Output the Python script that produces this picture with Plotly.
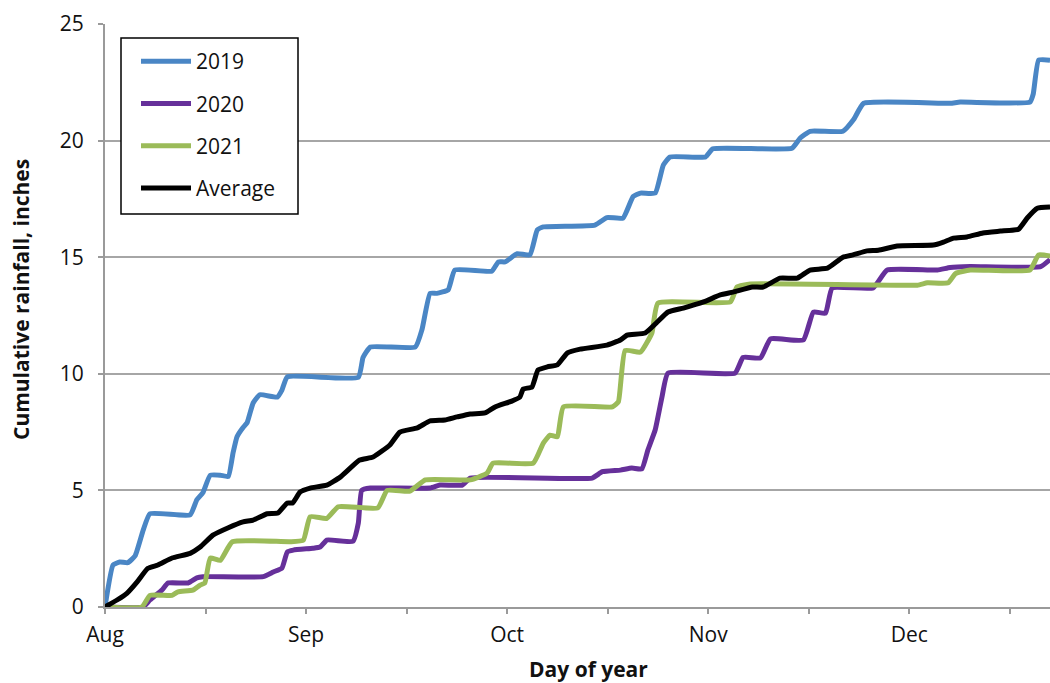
import plotly.graph_objects as go

# ---- data (days since Aug 1, cumulative inches) ----
days_2019 = [0, 1.2, 2.2, 3.4, 4.5, 5.7, 6.7, 12.7, 13.7, 14.6, 15.7, 17.2, 18.4, 19.1, 19.7, 20.6, 21.2, 22.1, 23.1, 25.7, 26.4, 27.2, 37.8, 38.5, 39.6, 46.3, 47.3, 48.5, 49.5, 51.2, 52.2, 57.7, 58.7, 59.7, 61.5, 63.4, 64.5, 65.4, 73.1, 74.9, 77.3, 78.8, 79.9, 82.1, 83.3, 84.3, 89.6, 90.7, 102.5, 103.7, 105.2, 110.1, 111.7, 113.2, 126.1, 127.6, 138.0, 138.5, 139.3, 141]
rain_2019 = [0, 1.8, 1.93, 1.9, 2.2, 3.3, 4.0, 3.95, 4.6, 4.9, 5.65, 5.65, 5.6, 6.6, 7.3, 7.7, 7.9, 8.75, 9.1, 9.0, 9.3, 9.87, 9.85, 10.7, 11.15, 11.15, 11.9, 13.45, 13.45, 13.6, 14.45, 14.4, 14.8, 14.8, 15.15, 15.1, 16.17, 16.3, 16.38, 16.7, 16.68, 17.6, 17.75, 17.75, 18.95, 19.3, 19.3, 19.65, 19.67, 20.1, 20.4, 20.4, 20.9, 21.6, 21.6, 21.65, 21.65, 22.0, 23.45, 23.45]

days_2020 = [0, 5.7, 6.7, 8.5, 9.4, 12.4, 13.7, 14.6, 23.6, 25.1, 26.4, 27.2, 28.1, 31.0, 32.1, 33.1, 37.0, 37.8, 38.3, 39.6, 48.5, 50.0, 53.3, 54.5, 72.7, 74.2, 76.9, 78.6, 80.1, 81.0, 82.1, 83.1, 84.0, 94.0, 95.2, 97.8, 99.3, 104.2, 105.7, 107.5, 108.5, 114.6, 116.7, 124.2, 126.1, 129.1, 139.6, 141]
rain_2020 = [0, 0, 0.3, 0.73, 1.03, 1.03, 1.25, 1.3, 1.3, 1.5, 1.67, 2.36, 2.44, 2.52, 2.57, 2.87, 2.82, 3.6, 5.0, 5.1, 5.1, 5.23, 5.23, 5.53, 5.53, 5.8, 5.87, 5.96, 5.92, 6.73, 7.6, 9.0, 10.03, 10.03, 10.7, 10.68, 11.5, 11.45, 12.65, 12.6, 13.68, 13.68, 14.45, 14.45, 14.56, 14.6, 14.6, 14.9]

days_2021 = [0, 5.5, 6.7, 10.0, 10.9, 13.1, 14.2, 14.9, 15.7, 17.2, 19.0, 27.6, 29.6, 30.6, 33.1, 34.8, 40.7, 42.1, 45.5, 47.8, 54.5, 57.0, 57.9, 63.9, 65.4, 66.4, 67.5, 68.4, 75.7, 76.6, 77.6, 79.9, 81.6, 82.5, 93.3, 94.3, 96.3, 121.2, 122.7, 125.8, 126.9, 129.1, 138.0, 139.3, 141]
rain_2021 = [0, 0, 0.5, 0.5, 0.65, 0.72, 0.94, 1.03, 2.1, 2.0, 2.8, 2.8, 2.87, 3.87, 3.8, 4.3, 4.25, 5.0, 4.97, 5.45, 5.45, 5.74, 6.17, 6.17, 7.03, 7.37, 7.3, 8.58, 8.58, 8.8, 11.0, 10.93, 11.75, 13.03, 13.08, 13.72, 13.85, 13.8, 13.9, 13.9, 14.3, 14.45, 14.45, 15.1, 15.05]

days_avg = [0, 1.8, 3.3, 4.8, 6.4, 7.9, 10.0, 12.7, 14.2, 16.1, 18.4, 20.6, 22.1, 24.2, 25.8, 27.2, 28.0, 29.1, 30.6, 33.1, 35.1, 38.0, 40.0, 42.5, 44.0, 46.6, 48.5, 50.7, 52.5, 54.5, 56.7, 58.2, 60.7, 61.9, 62.4, 63.7, 64.6, 66.0, 67.5, 69.0, 70.9, 74.9, 76.9, 77.9, 80.6, 82.4, 84.0, 86.3, 89.3, 91.8, 93.7, 96.6, 98.2, 100.7, 103.3, 105.2, 107.8, 110.1, 111.6, 113.7, 115.4, 118.2, 123.6, 125.1, 126.6, 128.6, 131.0, 133.6, 136.3, 137.6, 139.1, 141]
rain_avg = [0, 0.3, 0.6, 1.08, 1.66, 1.8, 2.1, 2.3, 2.57, 3.08, 3.4, 3.65, 3.73, 4.0, 4.03, 4.46, 4.46, 4.93, 5.1, 5.23, 5.57, 6.3, 6.43, 6.95, 7.5, 7.68, 7.98, 8.02, 8.15, 8.28, 8.32, 8.58, 8.83, 9.0, 9.35, 9.43, 10.16, 10.3, 10.38, 10.9, 11.06, 11.23, 11.45, 11.66, 11.75, 12.22, 12.65, 12.82, 13.08, 13.38, 13.5, 13.72, 13.72, 14.1, 14.1, 14.45, 14.53, 15.0, 15.1, 15.27, 15.3, 15.48, 15.52, 15.65, 15.82, 15.87, 16.04, 16.12, 16.2, 16.68, 17.1, 17.15]

series_names = ["2019", "2020", "2021", "Average"]
series_colors = ["#4A86C5", "#66309A", "#9BBB59", "#000000"]

month_ticks = [0, 15, 30, 45, 60, 75, 90, 105, 120, 135]
month_labels = ["Aug", "", "Sep", "", "Oct", "", "Nov", "", "Dec", ""]

FONT = "Open Sans"
FS = 21
TXT = "#111111"

# plot-area geometry (page pixels) used for placing legend frame and titles
PL, PR, PT, PB = 105, 1050, 24, 607
PW, PH = PR - PL, PB - PT


def px(x):
    return (x - PL) / PW


def py(y):
    return (PB - y) / PH


fig = go.Figure()
for name, xs, ys, col in zip(series_names,
                             [days_2019, days_2020, days_2021, days_avg],
                             [rain_2019, rain_2020, rain_2021, rain_avg],
                             series_colors):
    assert len(xs) == len(ys)
    fig.add_trace(go.Scatter(x=xs, y=ys, mode="lines", name=name,
                             legendgroup=name,
                             line=dict(color=col, width=5, shape="spline", smoothing=0.4)))

fig.update_layout(
    width=1050, height=683,
    margin=dict(l=PL, r=1050 - PR, t=PT, b=683 - PB),
    paper_bgcolor="white", plot_bgcolor="white",
    font=dict(family=FONT, size=FS, color=TXT),
    showlegend=True,
    legend=dict(x=px(136), y=py(41), xanchor="left", yanchor="top",
                borderwidth=0, bgcolor="rgba(0,0,0,0)",
                font=dict(family=FONT, size=FS, color=TXT),
                tracegroupgap=12, itemwidth=50,
                traceorder="grouped"),
    shapes=[dict(type="rect", xref="paper", yref="paper",
                 x0=px(121), x1=px(298), y0=py(214), y1=py(38),
                 line=dict(color="black", width=1.5), fillcolor="white", layer="above")],
    xaxis=dict(range=[0, 141], tickmode="array", tickvals=month_ticks, ticktext=month_labels,
               showgrid=False, zeroline=False, showline=True, linecolor="#9A9A9A", linewidth=2,
               ticks="outside", ticklen=5, tickwidth=2, tickcolor="#9A9A9A",
               ticklabelstandoff=3,
               tickfont=dict(family=FONT, size=FS, color=TXT)),
    yaxis=dict(range=[0, 25], dtick=5, tick0=0, showgrid=True, gridcolor="#A6A6A6", gridwidth=1.5,
               zeroline=False, showline=True, linecolor="#9A9A9A", linewidth=2,
               ticks="outside", ticklen=5, tickwidth=1.5, tickcolor="#9A9A9A",
               ticklabelstandoff=10,
               tickfont=dict(family=FONT, size=FS, color=TXT)),
    annotations=[
        dict(text="<b>Day of year</b>", xref="paper", yref="paper", x=px(588), y=py(669),
             xanchor="center", yanchor="middle", showarrow=False,
             font=dict(family=FONT, size=FS, color=TXT)),
        dict(text="<b>Cumulative rainfall, inches</b>", xref="paper", yref="paper",
             x=px(21), y=py(300), textangle=-90,
             xanchor="center", yanchor="middle", showarrow=False,
             font=dict(family=FONT, size=FS, color=TXT)),
    ],
)

# remove the default page margin and scrollbars so the figure fills the window exactly
fig.write_html("out.html",
               config={"displayModeBar": False},
               post_script="document.body.style.margin='0px';"
                           "document.body.style.overflow='hidden';"
                           "document.documentElement.style.overflow='hidden';")
